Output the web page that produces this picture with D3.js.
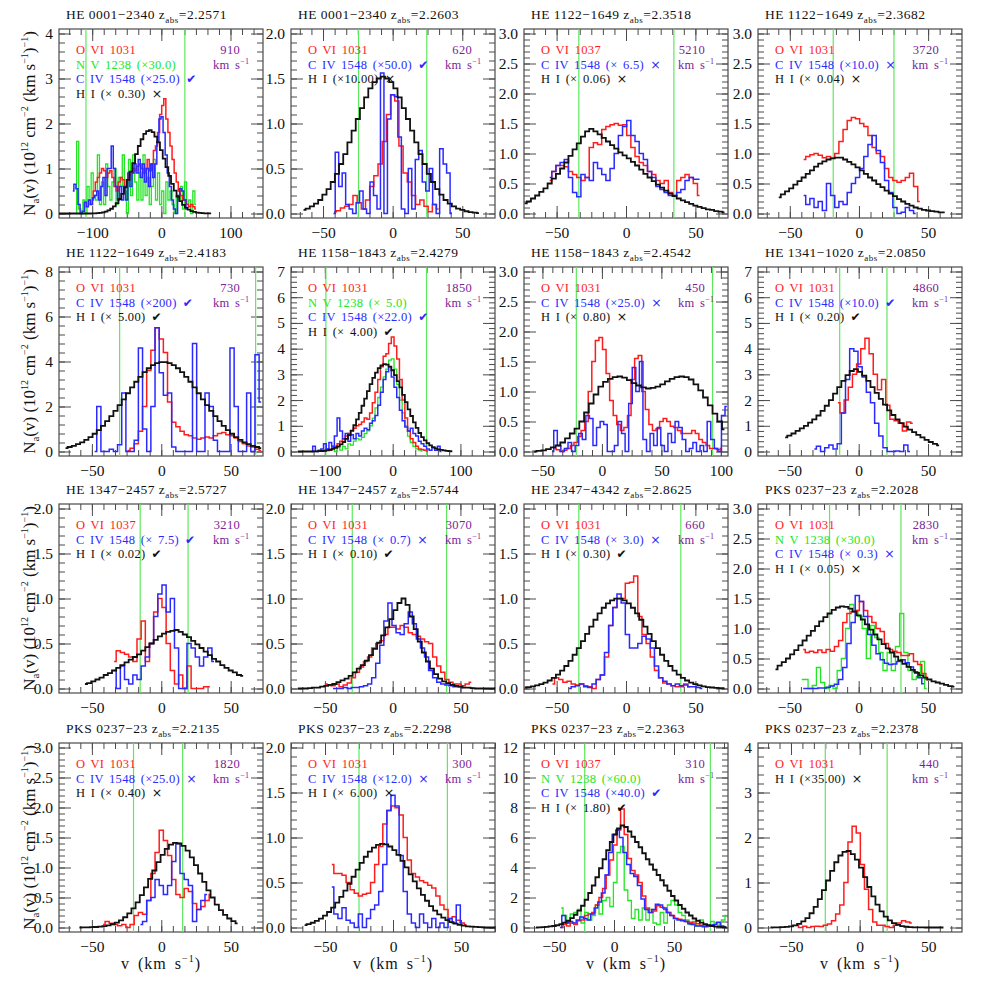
<!DOCTYPE html>
<html>
<head>
<meta charset="utf-8">
<script src="https://cdn.jsdelivr.net/npm/d3@7"></script>
<style>
  body { margin: 0; background: #fff; }
  text { font-family: "Liberation Serif", "DejaVu Serif", serif; }
</style>
</head>
<body>
<script>
// ---- data: apparent column density profiles ----
// each series = bin centres starting at `from` km/s, spaced by `step`
function bins(from, step, vals) {
    return vals.map((n, i) => ({ v: from + i * step, n: n }));
}

// HE 0001-2340 z=2.2571
const p1_ovi = bins(-100, 3, [0.3,0.5,0.7,0.8,0.9,1.0,0.95,0.8,0.9,0.95,0.8,0.6,0.5,0.7,0.8,0.75,0.6,0.75,0.85,0.9,1.0,0.95,1.05,1.1,1.0,0.9,1.0,1.2,0.95,1.1,1.4,1.5,1.8,2.2,2.4,2.55,2.1,1.8,1.5,1.2,0.9,0.7,0.5,0.4,0.3,0.3,0.2,0.15,0.2,0.15,0.1]);
const p1_nv = bins(-124, 3, [0.0,1.6,0.1,0.0,0.3,0.0,0.6,0.2,0.9,0.4,0.3,1.3,0.2,0.7,0.2,1.1,0.6,0.3,0.7,1.0,0.2,0.8,0.6,1.3,0.5,0.0,1.2,0.4,1.3,0.7,0.3,0.9,0.3,1.3,0.4,0.8,0.2,0.6,1.2,0.3,0.9,0.2,0.5,0.0,0.7,0.3,0.5,0.2,0.0,0.4,0.3,0.6,0.1,0.7,0.2,0.3,0.0,0.5,0.2]);
const p1_civ = bins(-128, 3, [0.5,0.65,0.55,0.2,0.0,0.05,0.25,0.15,0.3,0.2,0.35,0.4,0.5,0.3,0.6,0.8,0.4,1.0,1.0,1.5,1.0,0.6,0.3,0.6,0.3,0.6,0.3,0.9,0.6,0.9,1.1,0.9,1.2,0.8,1.1,0.7,1.0,0.6,1.1,0.8,1.1,1.6,2.1,2.15,1.8,1.3,0.9,0.6,0.3,0.1,0.0,0.4,0.55,0.5,0.3,0.1]);
const p1_hi = bins(-148, 4, [0,0,0,0,0,0,0,0,0,0,0,0,0.003,0.005,0.009,0.016,0.027,0.043,0.069,0.106,0.158,0.229,0.322,0.438,0.58,0.746,0.929,1.12,1.32,1.5,1.65,1.77,1.83,1.85,1.81,1.71,1.58,1.41,1.22,1.03,0.835,0.66,0.508,0.377,0.274,0.19,0.131,0.086,0.055,0.034,0.02,0.012,0.007,0.004,0.002,0.001]);

// HE 0001-2340 z=2.2603
const p2_ovi = bins(-42, 3, [0.02,0.03,0.06,0.08,0.1,0.2,0.12,0.05,0.15,0.3,0.42,0.55,0.8,1.1,1.32,1.25,0.75,0.45,0.35,0.2,0.1,0.15,0.08,0.02,0.1,0.05]);
const p2_civ = bins(-42.5, 2.5, [0.0,0.68,0.3,0.45,0.1,0.05,0.0,0.12,0.25,0.05,0.0,0.35,0.2,0.05,1.56,0.0,1.05,1.32,1.3,0.85,0.05,0.0,0.5,0.05,0.6,0.7,0.35,0.25,0.5,0.1,0.0,0.72,0.55,0.45,0.0]);
const p2_hi = bins(-64, 3, [0.04,0.055,0.08,0.11,0.15,0.21,0.27,0.35,0.44,0.55,0.66,0.79,0.92,1.05,1.17,1.29,1.39,1.46,1.5,1.52,1.5,1.46,1.39,1.29,1.17,1.05,0.92,0.79,0.66,0.55,0.44,0.35,0.27,0.21,0.15,0.11,0.08,0.055,0.04,0.025,0.015,0.01,0.005]);

// HE 1122-1649 z=2.3518
const p3_ovi = bins(-55, 3, [0.55,0.7,0.8,0.8,0.78,0.7,0.65,0.6,0.55,0.6,1.1,1.18,1.15,1.4,1.45,1.48,1.5,1.47,1.48,1.3,1.1,0.95,0.85,0.8,0.7,0.65,0.55,0.5,0.55,0.35,0.3,0.55,0.6,0.65,0.6,0.5,0.3]);
const p3_civ = bins(-55, 3, [0.6,0.7,0.8,0.85,0.9,0.6,0.35,0.28,0.65,0.6,0.55,0.85,0.75,0.65,0.55,0.75,1.0,1.3,1.45,1.55,1.3,1.2,1.0,0.9,0.7,0.6,0.45,0.4,0.35,0.3,0.3,0.35,0.4,0.55,0.6,0.57,0.57]);
const p3_hi = bins(-73, 3, [0.17,0.2,0.25,0.3,0.36,0.42,0.5,0.58,0.66,0.75,0.85,0.96,1.07,1.17,1.28,1.37,1.41,1.37,1.32,1.26,1.2,1.14,1.08,1.02,0.97,0.92,0.86,0.8,0.73,0.66,0.6,0.54,0.48,0.43,0.38,0.33,0.29,0.25,0.22,0.19,0.16,0.13,0.11,0.09,0.07,0.06,0.04,0.03,0.02]);

// HE 1122-1649 z=2.3682
const p4_ovi = bins(-40, 3, [0.9,0.95,0.98,1.0,0.97,0.93,0.95,0.92,1.0,1.2,1.4,1.55,1.6,1.58,1.5,1.45,1.3,1.1,1.0,0.95,0.75,0.6,0.55,0.52,0.55,0.6,0.67,0.45,0.2]);
const p4_civ = bins(-40, 3, [0.3,0.15,0.25,0.1,0.2,0.05,0.5,0.3,0.1,0.2,0.15,0.35,0.5,0.6,0.75,0.95,1.15,1.3,1.05,0.85,0.55,0.35,0.1,0.0,0.02,0.1,0.05,0.0]);
const p4_hi = bins(-58, 3, [0.27,0.32,0.37,0.42,0.48,0.54,0.6,0.66,0.72,0.78,0.83,0.87,0.9,0.92,0.93,0.93,0.9,0.86,0.82,0.77,0.72,0.66,0.6,0.55,0.49,0.44,0.38,0.33,0.29,0.24,0.2,0.16,0.13,0.1,0.08,0.06,0.05,0.04,0.03,0.02,0.02]);

// HE 1122-1649 z=2.4183
const p5_ovi = bins(-24, 3, [0.05,0.15,0.35,0.9,2.0,3.6,4.5,5.5,5.0,4.4,2.2,1.3,1.1,0.9,0.75,0.7,0.6,0.55,0.6,0.65,0.6,0.7,0.8,0.85,0.75,0.7,0.6,0.45,0.35,0.25,0.2,0.1,0.05]);
const p5_civ = bins(-48, 3, [0.0,2.0,0.0,0.0,0.1,0.0,0.3,2.6,0.0,0.0,0.5,4.6,1.0,0.0,2.0,5.5,3.5,2.5,2.6,0.2,0.0,0.0,0.0,0.0,4.8,0.0,0.0,2.6,2.0,0.5,0.0,0.0,0.0,4.6,2.0,0.0,0.0,2.6,0.0,4.3,2.2]);
const p5_hi = bins(-69, 3, [0.15,0.2,0.25,0.33,0.41,0.52,0.64,0.79,0.95,1.14,1.35,1.57,1.81,2.06,2.32,2.59,2.85,3.1,3.32,3.53,3.7,3.84,3.93,3.97,3.97,3.93,3.84,3.7,3.53,3.32,3.1,2.85,2.59,2.32,2.06,1.81,1.57,1.35,1.14,0.95,0.79,0.64,0.52,0.41,0.33,0.25,0.2,0.15]);

// HE 1158-1843 z=2.4279
const p6_ovi = bins(-100, 4, [0.05,0.1,0.05,0.15,0.2,0.3,0.4,0.5,0.6,0.7,0.8,0.9,1.0,1.05,1.15,1.3,1.25,1.5,1.9,2.3,2.8,3.3,3.7,3.8,4.2,4.45,4.1,3.6,2.8,2.0,1.3,0.8,0.5,0.35,0.2,0.1,0.08,0.05,0.02]);
const p6_nv = bins(-88, 4, [0.1,0.0,0.15,0.05,0.2,0.1,0.3,0.25,0.4,0.5,0.45,0.55,0.7,0.8,1.0,1.3,1.7,2.1,2.5,2.9,3.2,3.55,3.6,3.2,2.6,2.0,1.5,1.0,0.6,0.35,0.2,0.1,0.05,0.02]);
const p6_civ = bins(-120, 4, [0.0,0.2,0.0,0.05,0.1,0.3,0.1,0.35,0.2,0.6,1.3,0.8,0.5,0.7,0.4,0.65,0.5,0.7,0.6,0.8,0.9,0.85,1.1,1.2,1.4,1.8,2.3,2.8,3.1,3.3,2.9,2.5,2.1,1.6,1.2,0.95,0.8,0.9,0.7,0.6,0.4,0.3,0.2,0.1,0.05,0.15,0.05,0.2,0.0]);
const p6_hi = bins(-140, 4, [0,0,0,0,0,0,0.005,0.008,0.013,0.02,0.03,0.046,0.068,0.1,0.14,0.2,0.28,0.37,0.49,0.64,0.81,1.02,1.25,1.5,1.78,2.06,2.35,2.62,2.86,3.07,3.24,3.35,3.4,3.38,3.3,3.16,2.97,2.74,2.49,2.2,1.92,1.64,1.38,1.13,0.92,0.72,0.56,0.43,0.32,0.24,0.17,0.12,0.08,0.06,0.04,0.025,0.016,0.01]);

// HE 1158-1843 z=2.4542
const p7_ovi = bins(-40, 3, [0.05,0.03,0.0,0.02,0.05,0.1,0.15,0.25,0.35,0.5,1.0,1.5,1.85,1.9,1.7,1.3,0.85,0.6,0.45,0.35,0.4,0.6,1.2,1.55,1.6,1.0,0.7,0.45,0.35,0.38,0.5,0.55,0.5,0.42,0.4,0.35,0.3,0.3,0.3,0.35,0.3,0.2,0.15,0.1,0.05,0.05,0.03,0.05]);
const p7_civ = bins(-42, 3, [0.0,0.35,0.1,0.0,0.05,0.15,0.0,0.1,0.3,0.2,0.6,0.55,0.1,0.4,0.5,0.45,0.0,0.0,0.1,0.5,0.3,0.0,0.8,1.4,1.0,1.5,0.2,0.0,0.3,0.1,0.4,0.1,0.0,0.3,0.15,0.5,0.4,0.2,0.0,0.05,0.15,0.0,0.1,0.0,0.5,0.2,0.05,0.0,0.6,0.75]);
const p7_hi = bins(-57, 4, [0.0,0.01,0.02,0.04,0.07,0.1,0.15,0.22,0.3,0.38,0.5,0.65,0.8,0.95,1.08,1.16,1.21,1.24,1.25,1.23,1.19,1.14,1.1,1.07,1.05,1.06,1.08,1.12,1.17,1.21,1.24,1.25,1.24,1.2,1.12,1.02,0.9,0.77,0.63,0.5,0.37]);

// HE 1341-1020 z=2.0850
const p8_ovi = bins(-15, 3, [1.9,1.5,2.0,2.5,3.0,3.4,4.0,4.4,3.8,3.0,2.4,2.8,1.8,1.25,1.2,1.1,0.8,1.15,1.1]);
const p8_civ = bins(-32, 3, [0.1,0.2,0.0,0.15,0.25,0.1,0.3,1.5,2.8,4.0,3.9,3.3,2.9,2.3,1.9,1.1,0.6,0.15,0.0,0.0,0.02,0.0,0.25,0.0]);
const p8_hi = bins(-53, 3, [0.55,0.62,0.7,0.8,0.9,1.0,1.12,1.25,1.4,1.58,1.78,2.0,2.25,2.5,2.75,2.97,3.13,3.2,3.1,2.95,2.75,2.5,2.28,2.05,1.82,1.6,1.42,1.25,1.1,0.97,0.85,0.75,0.65,0.55,0.45,0.37,0.3,0.24]);

// HE 1347-2457 z=2.5727
const p9_ovi = bins(-34, 3, [0.3,0.42,0.4,0.38,0.35,0.3,0.55,0.75,0.3,0.5,0.85,1.0,0.9,0.5,0.2,0.05,0.15,0.0,0.25,0.0,0.0,0.0,0.02,0.02]);
const p9_civ = bins(-34, 3, [0.2,0.0,0.25,0.1,0.05,0.15,0.1,0.25,0.35,0.5,0.8,1.05,1.15,0.85,1.0,0.45,0.0,0.0,0.5,0.45,0.35,0.25,0.35,0.45,0.3]);
const p9_hi = bins(-55, 3, [0.05,0.06,0.08,0.1,0.12,0.15,0.17,0.2,0.23,0.26,0.29,0.32,0.35,0.38,0.42,0.46,0.5,0.54,0.58,0.61,0.63,0.64,0.65,0.63,0.6,0.57,0.53,0.49,0.45,0.41,0.37,0.33,0.3,0.26,0.23,0.2,0.18,0.15,0.14]);

// HE 1347-2457 z=2.5744
const p10_ovi = bins(-50, 3, [0.05,0.04,0.03,0.05,0.02,0.04,0.06,0.12,0.18,0.24,0.3,0.35,0.45,0.5,0.53,0.6,0.68,0.68,0.66,0.7,0.68,0.62,0.6,0.58,0.55,0.52,0.5,0.35,0.25,0.18,0.1,0.07,0.05,0.05,0.03,0.05,0.07]);
const p10_civ = bins(-44, 3, [0.0,0.0,0.0,0.01,0.0,0.01,0.01,0.02,0.03,0.05,0.12,0.28,0.48,0.75,0.95,0.7,0.62,0.6,0.72,0.85,0.72,0.55,0.45,0.35,0.2,0.12,0.07,0.05,0.04,0.03,0.02,0.02,0.01]);
const p10_hi = bins(-70, 3, [0,0,0,0.005,0.01,0.01,0.02,0.03,0.04,0.05,0.07,0.09,0.11,0.14,0.18,0.22,0.26,0.31,0.37,0.44,0.51,0.59,0.68,0.77,0.87,0.95,1.0,0.93,0.8,0.66,0.52,0.4,0.3,0.22,0.16,0.11,0.08,0.06,0.04,0.03,0.02,0.01,0.01,0.005,0,0,0,0,0,0]);

// HE 2347-4342 z=2.8625
const p11_ovi = bins(-53, 3, [0.05,0.12,0.1,0.07,0.08,0.05,0.04,0.05,0.03,0.02,0.0,0.1,0.15,0.35,0.7,0.9,1.0,1.0,1.17,1.18,1.25,0.8,0.6,0.5,0.35,0.2,0.12,0.06,0.05,0.03,0.02,0.02,0.05,0.02]);
const p11_civ = bins(-41, 3, [0.0,0.02,0.03,0.05,0.02,0.01,0.05,0.1,0.15,0.4,0.7,0.9,1.05,0.95,0.6,0.45,0.45,0.5,0.58,0.55,0.45,0.25,0.12,0.08,0.05,0.03,0.05,0.03,0.04,0.02,0.02,0.01,0.0]);
const p11_hi = bins(-73, 3, [0.011,0.016,0.024,0.034,0.048,0.066,0.089,0.118,0.154,0.198,0.25,0.308,0.375,0.448,0.527,0.607,0.687,0.764,0.835,0.897,0.946,0.98,0.998,0.998,0.98,0.946,0.897,0.835,0.764,0.687,0.607,0.527,0.448,0.375,0.308,0.25,0.198,0.154,0.118,0.089,0.066,0.048,0.034,0.024,0.016,0.011,0.007,0.005,0.003]);

// PKS 0237-23 z=2.2028
const p12_ovi = bins(-40, 3, [0.65,0.6,0.62,0.6,0.64,0.6,0.65,0.62,0.7,0.8,1.1,1.25,1.28,1.3,1.45,1.3,1.2,1.1,1.0,0.95,0.75,0.65,0.62,0.6,0.55,0.55,0.58,0.45,0.4,0.25,0.15]);
const p12_nv = bins(-41, 3, [0.15,0.15,0.0,0.05,0.35,0.1,0.0,0.05,0.0,0.3,0.5,1.0,1.4,1.3,1.2,1.0,0.5,1.05,0.85,0.6,0.3,0.6,0.3,0.7,1.25,0.6,0.3,0.15,0.2,0.45,0.0]);
const p12_civ = bins(-40, 3, [0.0,0.0,0.0,0.0,0.01,0.01,0.02,0.04,0.07,0.15,0.35,0.75,1.1,1.55,1.45,1.2,0.9,0.72,0.58,0.48,0.42,0.4,0.41,0.45,0.48,0.43,0.36,0.28,0.18,0.08]);
const p12_hi = bins(-60, 3, [0.32,0.38,0.44,0.5,0.57,0.64,0.72,0.8,0.88,0.96,1.04,1.12,1.19,1.25,1.31,1.35,1.37,1.36,1.33,1.28,1.22,1.15,1.07,0.98,0.9,0.82,0.74,0.67,0.6,0.53,0.47,0.41,0.36,0.31,0.26,0.22,0.18,0.15,0.12,0.1,0.08,0.06,0.04,0.03]);

// PKS 0237-23 z=2.2135
const p13_ovi = bins(-42, 3, [0.05,0.1,0.07,0.05,0.03,0.05,0.0,0.05,0.2,0.25,0.22,0.45,0.9,1.25,1.62,1.45,1.2,0.8,0.55,0.5,0.65,0.6,0.4,0.3,0.35,0.45,0.55]);
const p13_civ = bins(-15, 3, [0.05,0.1,0.45,0.5,0.8,0.7,0.55,0.7,1.1,1.4,0.9,0.8,0.7,0.1,0.3,0.45,0.55]);
const p13_hi = bins(-59, 3, [0.0,0.001,0.003,0.005,0.008,0.013,0.022,0.035,0.054,0.082,0.12,0.171,0.237,0.32,0.42,0.54,0.67,0.81,0.95,1.09,1.21,1.31,1.38,1.41,1.4,1.36,1.28,1.17,1.04,0.9,0.76,0.62,0.5,0.38,0.29,0.21,0.15,0.105,0.07]);

// PKS 0237-23 z=2.2298
const p14_ovi = bins(-45, 3, [0.7,0.6,0.6,0.58,0.5,0.42,0.38,0.35,0.37,0.38,0.5,0.7,0.9,1.15,1.3,1.35,1.33,1.25,1.0,0.75,0.6,0.56,0.52,0.5,0.47,0.44,0.35,0.25,0.2,0.1,0.12,0.08,0.05,0.03]);
const p14_civ = bins(-45, 3, [0.45,0.15,0.1,0.22,0.08,0.05,0.0,0.15,0.0,0.1,0.2,0.25,0.4,0.7,1.3,1.47,1.35,0.8,0.4,0.15,0.05,0.0,0.15,0.05,0.0,0.1,0.0,0.05,0.0,0.1,0.05,0.25,0.05]);
const p14_hi = bins(-65, 3, [0.026,0.037,0.053,0.073,0.099,0.132,0.172,0.22,0.277,0.34,0.41,0.486,0.564,0.643,0.717,0.786,0.843,0.888,0.918,0.93,0.924,0.9,0.86,0.806,0.74,0.668,0.59,0.512,0.435,0.363,0.297,0.238,0.187,0.145,0.109,0.081,0.059,0.042,0.029,0.02,0.013,0.009,0.006,0.004,0.002,0,0,0,0,0,0]);

// PKS 0237-23 z=2.2363
const p15_ovi = bins(-44, 3, [0.0,0.2,0.1,0.3,0.2,0.45,0.5,0.8,0.9,1.0,1.5,2.0,2.6,3.5,4.5,5.5,6.5,7.9,6.2,4.6,3.8,3.5,3.0,2.1,1.3,1.0,1.1,1.45,1.35,1.2,1.0,0.8,0.6,0.55,0.5,0.4,0.35,0.3,0.25,0.15,0.1,0.05]);
const p15_nv = bins(-44, 3, [1.3,0.8,0.3,0.9,1.0,1.2,0.3,1.0,0.5,0.8,1.5,0.9,1.8,2.0,1.4,3.0,5.0,5.4,2.5,1.8,0.6,1.2,0.5,1.3,0.5,1.2,0.3,0.2,1.0,0.3,1.5,1.8,1.5,1.0,0.8,0.5,0.2,0.4,0.1,0.5,0.2,0.1,0.4,0.3,0.1,0.5,0.8]);
const p15_civ = bins(-45, 3, [0.0,0.8,0.3,0.4,0.3,0.5,0.7,0.6,0.5,0.9,1.3,1.7,2.3,3.5,5.0,6.2,6.5,6.0,5.0,4.2,3.6,3.4,2.8,1.9,1.2,1.0,1.2,1.55,1.5,1.3,1.0,0.8,0.6,0.5,0.45,0.4,0.25,0.2,0.1,0.1,0.05,0.1,0.15,0.2,0.35,0.1,0.05]);
const p15_hi = bins(-65, 3, [0.0,0.01,0.02,0.04,0.07,0.1,0.15,0.22,0.32,0.45,0.62,0.85,1.12,1.45,1.85,2.3,2.8,3.35,3.95,4.55,5.15,5.7,6.2,6.6,6.8,6.7,6.4,6.05,5.7,5.35,4.95,4.55,4.2,3.85,3.5,3.15,2.8,2.45,2.1,1.8,1.5,1.25,1.0,0.8,0.6,0.45,0.32,0.22,0.15,0.1,0.06,0.04,0.02,0.01]);

// PKS 0237-23 z=2.2378
const p16_ovi = bins(-46, 3, [0.05,0.0,0.03,0.0,0.02,0.03,0.02,0.05,0.08,0.15,0.3,0.5,1.0,1.9,2.25,2.1,1.4,0.85,0.4,0.12,0.05,0.05,0.02,0.0,0.05,0.1,0.15,0.12,0.1]);
const p16_hi = bins(-65, 3, [0.0,0.002,0.003,0.007,0.014,0.026,0.047,0.081,0.134,0.21,0.317,0.457,0.63,0.83,1.045,1.26,1.45,1.6,1.68,1.7,1.63,1.51,1.33,1.12,0.9,0.69,0.51,0.36,0.24,0.157,0.097,0.057,0.032,0.017,0.009,0.004,0.002,0.001,0,0,0,0,0]);

// ---- panel labels and axis settings ----
const titles = ["HE 0001−2340","HE 0001−2340","HE 1122−1649","HE 1122−1649",
                "HE 1122−1649","HE 1158−1843","HE 1158−1843","HE 1341−1020",
                "HE 1347−2457","HE 1347−2457","HE 2347−4342","PKS 0237−23",
                "PKS 0237−23","PKS 0237−23","PKS 0237−23","PKS 0237−23"];
const zabs = ["2.2571","2.2603","2.3518","2.3682","2.4183","2.4279","2.4542","2.0850",
              "2.5727","2.5744","2.8625","2.2028","2.2135","2.2298","2.2363","2.2378"];
const widthKms = ["910","620","5210","3720","730","1850","450","4860",
                  "3210","3070","660","2830","1820","300","310","440"];
const xRanges = [[-148,147],[-73,73.5],[-73.5,73.5],[-73,74.5],
                 [-73.7,73.3],[-150,151],[-65.5,106],[-72.6,74.5],
                 [-73.7,73.3],[-75,75.5],[-73.5,73.5],[-72.6,74.5],
                 [-73.7,73.3],[-75,75],[-75,95],[-74,74.5]];
const xMajor = [100,50,50,50, 50,100,50,50, 50,50,50,50, 50,50,50,50];
const yMax = [4,2,3,3, 8,7,3,7, 2,2,2,3, 3,2,12,4];
const yMajor = [1,0.5,0.5,0.5, 2,1,0.5,1, 0.5,0.5,0.5,0.5, 0.5,0.5,2,1];
const limitsV = [[-109,34],[-24.5,24.5],[-34,34.5],[-18.6,25.3],
                 [-30,68],[-98.5,50],[-21.5,93],[-13.7,20.4],
                 [-15.2,19.3],[-29.8,39.8],[-34,39.5],[-21,30.5],
                 [-20,15.4],[-25,40],[-24.4,80.3],[-25,20]];
// legend rows: [label, ion key, flag]
const legends = [
  [["O VI 1031","ovi",""],["N V 1238 (×30.0)","nv",""],["C IV 1548 (×25.0)","civ","✔"],["H I (× 0.30)","hi","×"]],
  [["O VI 1031","ovi",""],["C IV 1548 (×50.0)","civ","✔"],["H I (×10.00)","hi","×"]],
  [["O VI 1037","ovi",""],["C IV 1548 (× 6.5)","civ","×"],["H I (× 0.06)","hi","×"]],
  [["O VI 1031","ovi",""],["C IV 1548 (×10.0)","civ","×"],["H I (× 0.04)","hi","×"]],
  [["O VI 1031","ovi",""],["C IV 1548 (×200)","civ","✔"],["H I (× 5.00)","hi","✔"]],
  [["O VI 1031","ovi",""],["N V 1238 (× 5.0)","nv",""],["C IV 1548 (×22.0)","civ","✔"],["H I (× 4.00)","hi","✔"]],
  [["O VI 1031","ovi",""],["C IV 1548 (×25.0)","civ","×"],["H I (× 0.80)","hi","×"]],
  [["O VI 1031","ovi",""],["C IV 1548 (×10.0)","civ","✔"],["H I (× 0.20)","hi","✔"]],
  [["O VI 1037","ovi",""],["C IV 1548 (× 7.5)","civ","✔"],["H I (× 0.02)","hi","✔"]],
  [["O VI 1031","ovi",""],["C IV 1548 (× 0.7)","civ","×"],["H I (× 0.10)","hi","✔"]],
  [["O VI 1031","ovi",""],["C IV 1548 (× 3.0)","civ","×"],["H I (× 0.30)","hi","✔"]],
  [["O VI 1031","ovi",""],["N V 1238 (×30.0)","nv",""],["C IV 1548 (× 0.3)","civ","×"],["H I (× 0.05)","hi","×"]],
  [["O VI 1031","ovi",""],["C IV 1548 (×25.0)","civ","×"],["H I (× 0.40)","hi","×"]],
  [["O VI 1031","ovi",""],["C IV 1548 (×12.0)","civ","×"],["H I (× 6.00)","hi","×"]],
  [["O VI 1037","ovi",""],["N V 1238 (×60.0)","nv",""],["C IV 1548 (×40.0)","civ","✔"],["H I (× 1.80)","hi","✔"]],
  [["O VI 1031","ovi",""],["H I (×35.00)","hi","×"]]
];
const profiles = [
  {nv: p1_nv, ovi: p1_ovi, civ: p1_civ, hi: p1_hi},
  {ovi: p2_ovi, civ: p2_civ, hi: p2_hi},
  {ovi: p3_ovi, civ: p3_civ, hi: p3_hi},
  {ovi: p4_ovi, civ: p4_civ, hi: p4_hi},
  {ovi: p5_ovi, civ: p5_civ, hi: p5_hi},
  {nv: p6_nv, ovi: p6_ovi, civ: p6_civ, hi: p6_hi},
  {ovi: p7_ovi, civ: p7_civ, hi: p7_hi},
  {ovi: p8_ovi, civ: p8_civ, hi: p8_hi},
  {ovi: p9_ovi, civ: p9_civ, hi: p9_hi},
  {ovi: p10_ovi, civ: p10_civ, hi: p10_hi},
  {ovi: p11_ovi, civ: p11_civ, hi: p11_hi},
  {nv: p12_nv, ovi: p12_ovi, civ: p12_civ, hi: p12_hi},
  {ovi: p13_ovi, civ: p13_civ, hi: p13_hi},
  {ovi: p14_ovi, civ: p14_civ, hi: p14_hi},
  {nv: p15_nv, ovi: p15_ovi, civ: p15_civ, hi: p15_hi},
  {ovi: p16_ovi, hi: p16_hi}
];

// ---- layout ----
var svgWidth = 981, svgHeight = 981;
var colLeft = [59, 291, 524, 758];
var rowTop = [29, 267, 504, 743];
var boxW = 204, boxH = 189;
var axisColor = "#4a4a4a";
var colors = {ovi: "#ff1c1c", nv: "#22e622", civ: "#2a2aff", hi: "#111111"};
var widths = {ovi: 1.5, nv: 1.3, civ: 1.5, hi: 1.8};
var drawOrder = ["nv", "ovi", "civ", "hi"];

var svg = d3.select("body")
    .append("svg")
    .attr("width", svgWidth)
    .attr("height", svgHeight)
    .style("background", "#fff");

function styleAxis(g) {
    g.select(".domain").remove();
    g.selectAll(".tick line").attr("stroke", axisColor).attr("stroke-width", 1);
    g.selectAll(".tick text")
        .style("font-family", "'Liberation Serif', serif")
        .style("font-size", "15.5px")
        .attr("fill", "#111");
}

// legend-like text in the panels
function panelText(sel) {
    return sel.style("font-size", "12.5px")
        .style("letter-spacing", "0.3px")
        .style("word-spacing", "2px");
}

titles.forEach((title, i) => {
    var col = i % 4, row = Math.floor(i / 4);
    var left = colLeft[col], top = rowTop[row];
    var g = svg.append("g").attr("transform", `translate(${left},${top})`);

    var d0 = xRanges[i][0], d1 = xRanges[i][1];
    var x = d3.scaleLinear().domain([d0, d1]).range([0, boxW]);
    var ym = yMax[i];
    var y = d3.scaleLinear().domain([-0.025 * ym, 1.025 * ym]).range([boxH, 0]);

    // tick positions
    var M = xMajor[i], m = M / 6;
    var xMaj = d3.range(Math.ceil(d0 / M), Math.floor(d1 / M) + 1).map(k => k * M);
    var xMin = d3.range(Math.ceil(d0 / m), Math.floor(d1 / m) + 1).map(k => k * m);
    var YM = yMajor[i], Ym = YM / 5;
    var yMaj = d3.range(0, Math.round(ym / YM) + 1).map(k => k * YM);
    var yMin = d3.range(0, Math.round(ym / Ym) + 1).map(k => k * Ym);
    var yFmt = YM < 1 ? d3.format(".1f") : d3.format("d");

    // axes, ticks pointing inward on all four sides
    g.append("g").attr("transform", `translate(0,${boxH})`)
        .call(d3.axisBottom(x).tickValues(xMin).tickSize(-6).tickFormat("")).call(styleAxis);
    g.append("g").attr("transform", `translate(0,${boxH})`)
        .call(d3.axisBottom(x).tickValues(xMaj).tickSizeInner(-12).tickSizeOuter(0)
            .tickPadding(9).tickFormat(d3.format("d"))).call(styleAxis);
    g.append("g")
        .call(d3.axisTop(x).tickValues(xMin).tickSize(-6).tickFormat("")).call(styleAxis);
    g.append("g")
        .call(d3.axisTop(x).tickValues(xMaj).tickSize(-12).tickFormat("")).call(styleAxis);
    g.append("g")
        .call(d3.axisLeft(y).tickValues(yMin).tickSize(-6).tickFormat("")).call(styleAxis);
    g.append("g")
        .call(d3.axisLeft(y).tickValues(yMaj).tickSizeInner(-12).tickSizeOuter(0)
            .tickPadding(6).tickFormat(yFmt)).call(styleAxis);
    g.append("g").attr("transform", `translate(${boxW},0)`)
        .call(d3.axisRight(y).tickValues(yMin).tickSize(-6).tickFormat("")).call(styleAxis);
    g.append("g").attr("transform", `translate(${boxW},0)`)
        .call(d3.axisRight(y).tickValues(yMaj).tickSize(-12).tickFormat("")).call(styleAxis);

    g.append("rect")
        .attr("width", boxW).attr("height", boxH)
        .attr("fill", "none").attr("stroke", axisColor).attr("stroke-width", 1.2);

    // clip for the profiles
    svg.append("clipPath").attr("id", "clip" + i)
        .append("rect").attr("width", boxW).attr("height", boxH);
    var plot = g.append("g").attr("clip-path", `url(#clip${i})`);

    // integration limits
    limitsV[i].forEach(v => {
        plot.append("line")
            .attr("x1", x(v)).attr("x2", x(v))
            .attr("y1", 0).attr("y2", boxH)
            .attr("stroke", "#5ee85e").attr("stroke-width", 1.2);
    });

    // step profiles
    var line = d3.line()
        .x(d => x(d.v))
        .y(d => y(d.n))
        .curve(d3.curveStep);
    drawOrder.forEach(key => {
        var series = profiles[i][key];
        if (!series) return;
        plot.append("path")
            .datum(series)
            .attr("d", line)
            .attr("fill", "none")
            .attr("stroke", colors[key])
            .attr("stroke-width", widths[key])
            .attr("stroke-linejoin", "miter");
    });

    // title
    var t = g.append("text")
        .attr("x", 7).attr("y", -10)
        .style("font-size", "13.5px")
        .style("letter-spacing", "0.5px")
        .attr("fill", "#111");
    t.append("tspan").text(title + " z");
    t.append("tspan").style("font-size", "9px").attr("dy", 4).text("abs");
    t.append("tspan").attr("dy", -4).text("=" + zabs[i]);

    // legend
    legends[i].forEach((row, k) => {
        var lt = g.append("text")
            .attr("x", 17).attr("y", 25 + 14.5 * k)
            .attr("fill", colors[row[1]])
            .call(panelText)
            .text(row[0]);
        if (row[2]) {
            lt.append("tspan")
                .style("font-family", "DejaVu Sans, sans-serif")
                .style("font-size", row[2] === "✔" ? "12px" : "12.5px")
                .text(" " + row[2]);
        }
    });

    // velocity width
    g.append("text")
        .attr("x", boxW - 23).attr("y", 25)
        .attr("text-anchor", "end")
        .attr("fill", "#7a2399")
        .call(panelText)
        .text(widthKms[i]);
    var u = g.append("text")
        .attr("x", boxW - 50).attr("y", 39.5)
        .attr("fill", "#7a2399")
        .call(panelText);
    u.append("tspan").text("km s");
    u.append("tspan").style("font-size", "8px").attr("dy", -5).text("−1");
});

// y axis titles, one per row
rowTop.forEach(top => {
    var yl = svg.append("text")
        .attr("transform", `translate(35,${top + boxH / 2}) rotate(-90)`)
        .attr("text-anchor", "middle")
        .style("font-size", "17px")
        .attr("fill", "#111");
    yl.append("tspan").text("N");
    yl.append("tspan").style("font-size", "11px").attr("dy", 4).text("a");
    yl.append("tspan").attr("dy", -4).text("(v)  (10");
    yl.append("tspan").style("font-size", "10px").attr("dy", -7).text("12");
    yl.append("tspan").attr("dy", 7).text(" cm");
    yl.append("tspan").style("font-size", "10px").attr("dy", -7).text("−2");
    yl.append("tspan").attr("dy", 7).text(" (km s");
    yl.append("tspan").style("font-size", "10px").attr("dy", -7).text("−1");
    yl.append("tspan").attr("dy", 7).text(")");
    yl.append("tspan").style("font-size", "10px").attr("dy", -7).text("−1");
    yl.append("tspan").attr("dy", 7).text(")");
});

// x axis titles under the bottom row
colLeft.forEach(left => {
    var xl = svg.append("text")
        .attr("x", left + boxW / 2).attr("y", 969)
        .attr("text-anchor", "middle")
        .style("font-size", "16px")
        .style("letter-spacing", "1px")
        .style("word-spacing", "3px")
        .attr("fill", "#111");
    xl.append("tspan").text("v (km s");
    xl.append("tspan").style("font-size", "10px").attr("dy", -7).text("−1");
    xl.append("tspan").attr("dy", 7).text(")");
});
</script>
</body>
</html>
